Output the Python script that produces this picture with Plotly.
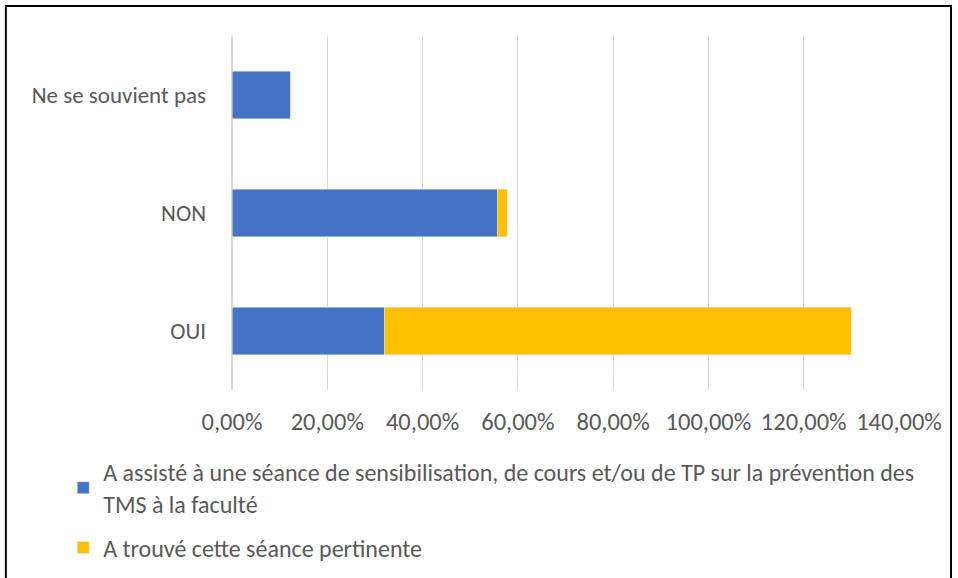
import plotly.graph_objects as go

categories = ["OUI", "NON", "Ne se souvient pas"]
assiste = [0.3196, 0.5567, 0.1237]
pertinente = [0.9800, 0.0206, 0.0]

label_assiste = ("A assisté à une séance de sensibilisation, de cours et/ou de TP sur la prévention des"
                 "<br>TMS à la faculté")
label_pertinente = "A trouvé cette séance pertinente"

font_family = "Carlito, Calibri, 'Liberation Sans Narrow', 'Open Sans', sans-serif"
grey_text = "#595959"

fig = go.Figure()
fig.add_trace(go.Bar(y=categories, x=assiste, orientation="h", name=label_assiste,
                     legendgroup="a", marker=dict(color="#4472C4")))
fig.add_trace(go.Bar(y=categories, x=pertinente, orientation="h", name=label_pertinente,
                     legendgroup="b", marker=dict(color="#FFC000")))

fig.update_layout(
    barmode="stack",
    bargap=0.6,
    width=958, height=578,
    margin=dict(l=232, r=59, t=36, b=188, autoexpand=False),
    paper_bgcolor="white", plot_bgcolor="white",
    separators=", ",
    font=dict(family=font_family, size=23, color=grey_text),
    showlegend=True,
    legend=dict(orientation="v", xref="container", yref="container",
                x=0.066, y=0.2215, xanchor="left", yanchor="top",
                font=dict(size=24, color=grey_text), tracegroupgap=10,
                traceorder="grouped"),
    # black frame around the whole chart
    shapes=[dict(type="rect", xref="paper", yref="paper",
                 x0=-0.339, x1=1.078, y0=-0.56, y1=1.085,
                 line=dict(color="black", width=2))],
)
fig.update_xaxes(range=[0, 1.4], dtick=0.2, tickformat=".2%", showgrid=True,
                 gridcolor="#d9d9d9", gridwidth=1, zeroline=True, zerolinecolor="#d9d9d9",
                 showline=False, ticks="", ticklabelstandoff=14, fixedrange=True,
                 automargin=False, tickfont=dict(size=24.5))
fig.update_yaxes(showgrid=False, showline=False, ticks="", ticklabelstandoff=25,
                 fixedrange=True, automargin=False)

# drop the default 8px body margin so the figure sits at the page corner
fig.write_html("out.html", config={"displayModeBar": False},
               post_script="document.body.style.margin='0px';")
